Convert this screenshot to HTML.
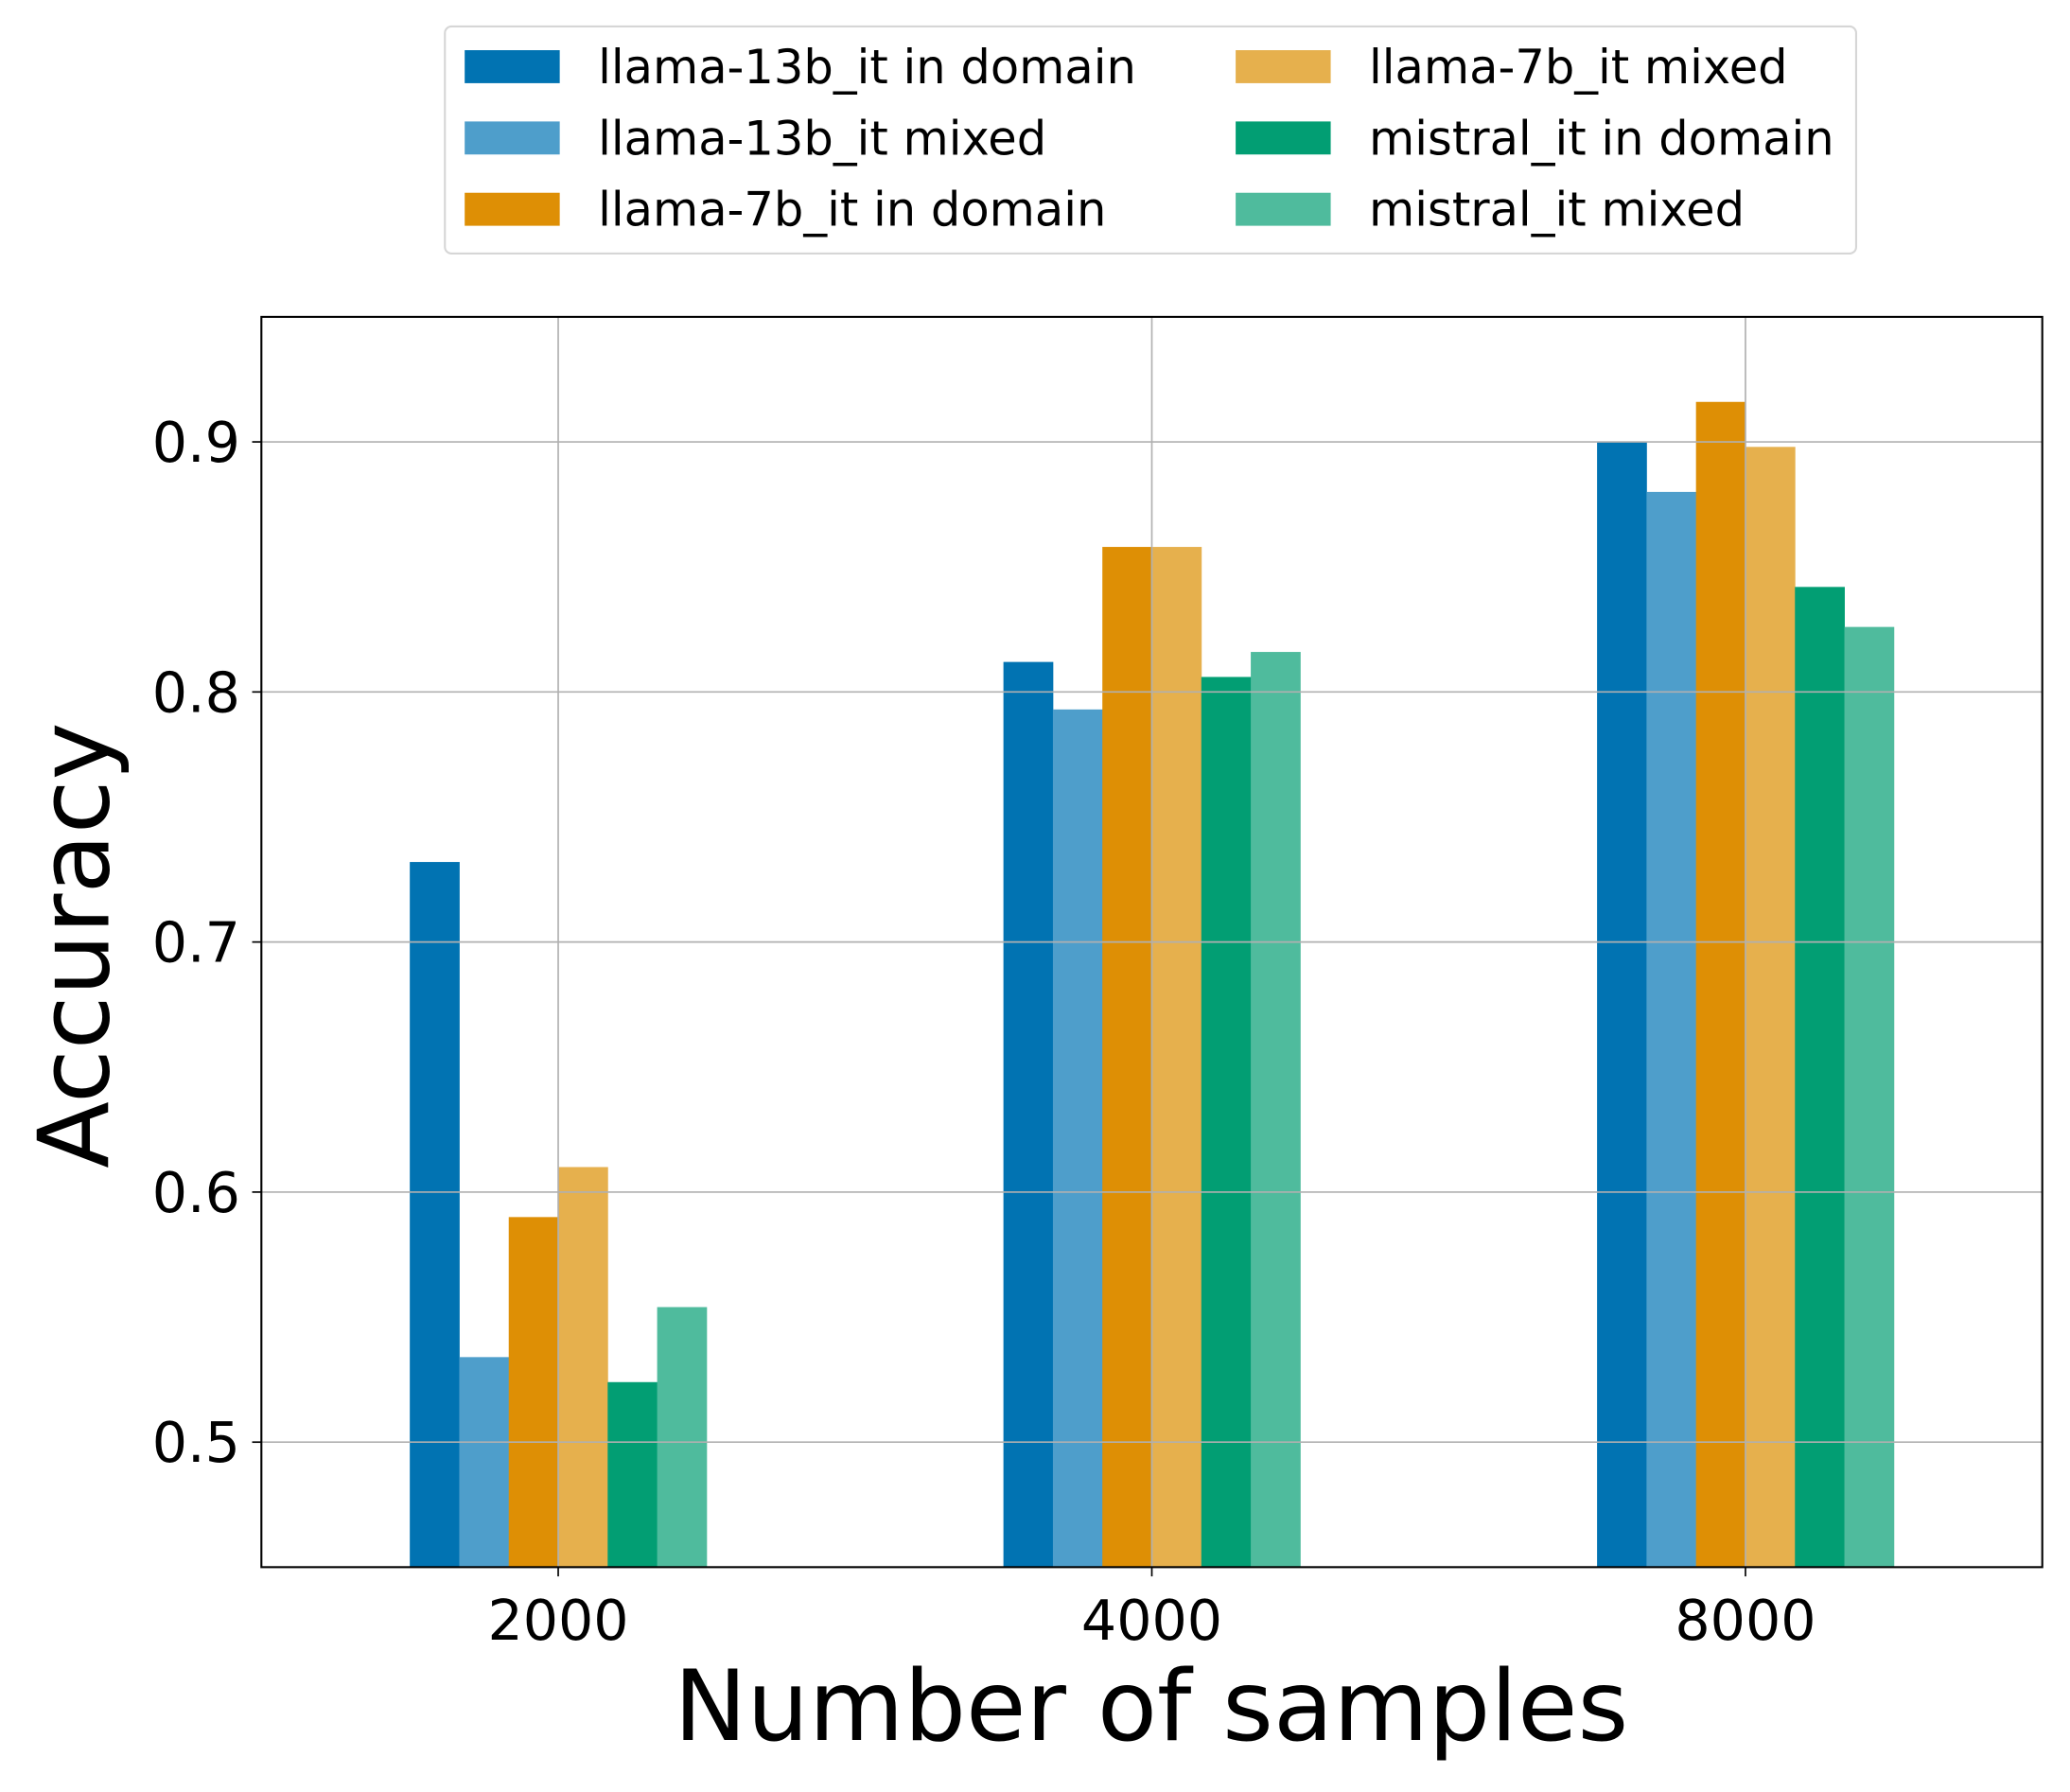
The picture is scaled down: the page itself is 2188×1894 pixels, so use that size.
<!DOCTYPE html>
<html><head><meta charset="utf-8"><style>html,body{margin:0;padding:0;background:#fff}svg{display:block}</style></head>
<body>
<svg id="chart" width="2188" height="1894" viewBox="0 0 1568 1357.3" xmlns="http://www.w3.org/2000/svg" font-family="DejaVu Sans, Liberation Sans, sans-serif">
<rect width="1568" height="1358" fill="#fff"/>
<g id="bars"></g>
<g id="grid"></g>
<rect x="198" y="240" width="1349" height="947" fill="none" stroke="#000" stroke-width="1.5"/>
<g id="ticks"></g>
<text x="872" y="1318" font-size="74" text-anchor="middle">Number of samples</text>
<text transform="translate(82,716) rotate(-90)" font-size="74" text-anchor="middle">Accuracy</text>
<g id="legend">
<rect x="337" y="20" width="1069" height="172" rx="5" fill="#fff" stroke="#d6d6d6" stroke-width="1.5"/>
</g>
</svg>
<script>
const categories = ["2000","4000","8000"];
const seriesNames = ["llama-13b_it in domain","llama-13b_it mixed","llama-7b_it in domain","llama-7b_it mixed","mistral_it in domain","mistral_it mixed"];
const seriesColors = ["#0173b2","#4e9ecb","#de8f05","#e6b04d","#029e73","#4fbb9d"];
const s0 = [0.732,0.812,0.900];
const s1 = [0.534,0.793,0.880];
const s2 = [0.590,0.858,0.916];
const s3 = [0.610,0.858,0.898];
const s4 = [0.524,0.806,0.842];
const s5 = [0.554,0.816,0.826];
const yTicks = [0.5,0.6,0.7,0.8,0.9];
const yTickLabels = ["0.5","0.6","0.7","0.8","0.9"];
const series = [s0,s1,s2,s3,s4,s5];
const NS="http://www.w3.org/2000/svg";
const L=198,R=1547,T=240,B=1187,ymin=0.45,ymax=0.95;
const xs=i=>L+(i+0.5)*(R-L)/3;
const ys=v=>B-(v-ymin)/(ymax-ymin)*(B-T);
const unit=(R-L)/3, bw=unit*0.5/6;
function mk(tag,attrs,parent){const e=document.createElementNS(NS,tag);for(const k in attrs)e.setAttribute(k,attrs[k]);parent.appendChild(e);return e;}
const gb=document.getElementById('bars'),gg=document.getElementById('grid'),gt=document.getElementById('ticks'),gl=document.getElementById('legend');
series.forEach((s,j)=>{s.forEach((v,i)=>{
 const x=xs(i)-unit*0.25+j*bw;
 const r=mk('rect',{x:x,y:ys(v),width:bw+0.3,height:B-ys(v),fill:seriesColors[j]},gb);
 
 
});});
yTicks.forEach((t,k)=>{
 const y=ys(t);
 mk('line',{x1:L,x2:R,y1:y,y2:y,stroke:'#b0b0b0','stroke-width':1.2},gg);
 mk('line',{x1:L-7,x2:L,y1:y,y2:y,stroke:'#000','stroke-width':1.2},gt);
 const tx=mk('text',{x:L-16,y:y+15,'font-size':42,'text-anchor':'end'},gt);tx.textContent=yTickLabels[k];
 
 
});
categories.forEach((c,i)=>{
 const x=xs(i);
 mk('line',{x1:x,x2:x,y1:T,y2:B,stroke:'#b0b0b0','stroke-width':1.2},gg);
 mk('line',{x1:x,x2:x,y1:B,y2:B+7,stroke:'#000','stroke-width':1.2},gt);
 const tx=mk('text',{x:x,y:B+55,'font-size':42,'text-anchor':'middle'},gt);tx.textContent=c;
 
 
});
seriesNames.forEach((n,j)=>{
 const col=Math.floor(j/3),row=j%3;
 const px=col?936:352, py=38+row*54;
 const g=mk('g',{},gl);
 
 
 mk('rect',{x:px,y:py,width:72,height:25,fill:seriesColors[j]},g);
 const tx=mk('text',{x:px+101,y:py+25,'font-size':35.5},g);tx.textContent=n;
});
</script>
</body></html>
